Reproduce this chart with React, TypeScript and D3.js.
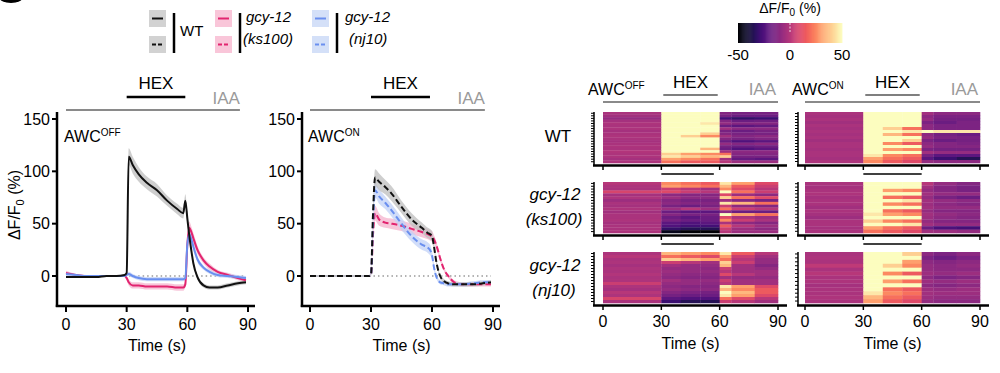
import React, { useEffect, useRef } from 'react';
import * as d3 from 'd3';

const FONT = '"Liberation Sans", Arial, sans-serif';

// ---- mean traces (ΔF/F0 %) ----
// AWC OFF panel, solid lines
const tOff = [0, 5, 10, 15, 20, 25, 29, 30, 31, 33, 36, 40, 45, 50, 55, 58, 59, 60, 61, 62, 63, 65, 68, 71, 75, 80, 85, 89];
const wtOff = [-1, -1, -1, -1, 0, 0, 1, 3, 114, 106, 97, 89, 82, 72, 64, 60, 72, 55, 38, 24, 12, -1, -9, -11, -11, -9, -7, -6];
const wtOffSem = [1, 1, 1, 1, 1, 1, 1, 2, 8, 8, 7, 6, 6, 5, 5, 5, 6, 5, 4, 3, 2, 2, 2, 2, 2, 2, 2, 2];
const ksOff = [3, 1, 0, 0, 0, 0, 0, -2, -6, -9, -9, -10, -10, -10, -11, -11, -8, 30, 46, 42, 36, 25, 15, 9, 4, 1, -2, -4];
const ksOffSem = [2, 1, 1, 1, 1, 1, 1, 2, 3, 3, 3, 3, 3, 3, 3, 3, 3, 6, 6, 5, 5, 4, 3, 3, 2, 2, 2, 2];
const njOff = [2, 1, 0, 0, 0, 0, 0, 1, 2, 0, -2, -3, -3, -3, -3, -3, -2, 30, 40, 35, 28, 16, 8, 4, 1, 0, -1, -2];
const njOffSem = [2, 1, 1, 1, 1, 1, 1, 1, 2, 2, 2, 2, 2, 2, 2, 2, 2, 5, 5, 5, 4, 3, 2, 2, 2, 2, 2, 2];

// AWC ON panel, dashed lines
const tOn = [0, 5, 10, 15, 20, 25, 29, 30, 31, 32, 34, 37, 40, 45, 50, 55, 58, 59, 60, 61, 62, 63, 64, 66, 68, 71, 75, 80, 85, 89];
const wtOn = [0, 0, 0, 0, 0, 0, 0, 1, 60, 94, 90, 85, 79, 66, 54, 46, 41, 40, 38, 28, 15, 6, 0, -5, -7, -8, -8, -8, -7, -6];
const wtOnSem = [1, 1, 1, 1, 1, 1, 1, 1, 6, 8, 8, 7, 7, 6, 6, 5, 5, 5, 5, 4, 3, 2, 2, 2, 2, 2, 2, 2, 2, 2];
const ksOn = [0, 0, 0, 0, 0, 0, 0, 1, 40, 60, 54, 51, 50, 48, 45, 42, 40, 39, 38, 35, 30, 24, 17, 6, 0, -6, -8, -8, -8, -8];
const ksOnSem = [1, 1, 1, 1, 1, 1, 1, 1, 5, 7, 6, 5, 5, 5, 5, 5, 5, 5, 5, 4, 4, 3, 3, 2, 2, 2, 2, 2, 2, 2];
const njOn = [0, 0, 0, 0, 0, 0, 0, 1, 50, 82, 76, 70, 63, 50, 38, 30, 27, 25, 20, 8, 0, -4, -6, -7, -8, -8, -8, -7, -6, -6];
const njOnSem = [1, 1, 1, 1, 1, 1, 1, 1, 5, 7, 7, 6, 6, 6, 5, 5, 5, 5, 4, 3, 2, 2, 2, 2, 2, 2, 2, 2, 2, 2];

const xTicks = [0, 30, 60, 90];
const yTicks = [0, 50, 100, 150];
const cbTicks = [-50, 0, 50];

// ---- heatmaps: one row per animal, values per time bin ----
const binEdges = [0, 30, 40, 50, 60, 66, 78, 90];
const hmWtOff = [
  [-3, 55, 55, 55, -12, -15, -15], [-5, 55, 55, 50, -15, -18, -18], [-8, 55, 55, 55, -28, -32, -30],
  [-4, 55, 55, 55, -12, -18, -17], [-2, 55, 55, 45, -8, -12, -12], [-3, 55, 55, 55, -18, -22, -20],
  [-2, 55, 55, 50, -5, -10, -10], [-4, 55, 55, 55, -15, -18, -15], [-3, 55, 55, 40, -12, -15, -15],
  [-2, 55, 40, 25, -5, -12, -10], [-3, 55, 55, 55, -12, -15, -13], [-4, 55, 55, 50, -18, -25, -22],
  [-3, 55, 55, 55, -8, -12, -10], [-2, 55, 55, 55, -15, -18, -17], [-3, 55, 50, 35, -18, -25, -22],
  [-1, 55, 55, 55, -5, -10, -10], [-2, 40, 30, 25, 20, -12, -12], [-2, 45, 40, 35, 40, -15, -15],
  [-4, 30, 25, 20, -5, -20, -22], [-2, 20, 15, 15, 0, -6, -6],
];
const hmKsOff = [
  [0, 25, 20, 15, 45, 30, 10], [-2, 30, 25, 20, 35, 15, 5], [-3, 5, 0, -5, 25, 10, 0],
  [8, 10, 5, 0, 50, 20, 5], [-4, -10, -12, -12, 10, -6, -10], [-2, -6, -10, -10, 40, 20, 10],
  [-6, -12, -15, -15, -6, -12, -15], [-3, -10, -12, -12, 45, 35, 20], [-4, -15, -18, -15, 5, -10, -12],
  [-2, -6, 0, -6, 20, 5, 0], [-5, -18, -22, -22, -10, -18, -18], [-3, -12, -15, -15, 50, 30, 20],
  [-3, -18, -22, -18, 10, -3, -6], [-2, -15, -18, -18, 25, 5, -3], [-4, -22, -25, -22, -3, -10, -12],
  [-3, -25, -28, -28, 15, 0, -6], [-3, -32, -35, -35, 5, -6, -10], [-2, -45, -50, -50, 0, -6, -6],
];
const hmNjOff = [
  [-2, 35, 30, 25, 45, 15, 0], [0, 20, 15, 10, 30, 5, -5], [-3, 40, 35, 30, 20, 0, -8],
  [-2, 5, 0, -5, 40, 5, -8], [-4, -5, -8, -8, 35, -5, -12], [-2, -8, -8, -10, 5, -5, -8],
  [-3, -6, -8, -8, 0, -5, -5], [-1, -8, -10, -10, 10, 0, -5], [-3, -10, -12, -12, -5, -8, -8],
  [-2, -5, -8, -8, 5, -5, -5], [5, -8, -8, -10, 0, -5, -5], [-2, -10, -12, -12, 45, 30, 10],
  [-4, -8, -10, -10, 35, 25, 15], [0, -12, -14, -16, 50, 35, 15], [-2, -16, -18, -18, 45, 30, 10],
  [8, -22, -25, -25, 20, 10, 0], [-3, -30, -35, -35, 5, 0, -5],
];
const hmWtOn = [
  [-3, 55, 55, 55, -5, -10, -10], [-4, 55, 55, 55, -10, -14, -14], [-3, 55, 55, 50, -8, -16, -16],
  [-5, 55, 55, 55, -14, -18, -14], [-3, 55, 55, 50, -10, -14, -14], [-4, 55, 40, 20, -10, -14, -14],
  [-3, 55, 55, 45, 50, 45, 45], [-4, 55, 35, 20, -10, -16, -18], [-3, 55, 55, 55, -8, -14, -15],
  [-5, 55, 50, 40, -14, -18, -16], [-3, 55, 25, 15, -10, -12, -14], [-3, 55, 55, 50, -8, -12, -12],
  [-4, 50, 30, 25, -14, -16, -16], [-3, 55, 55, 55, -5, -8, -8], [-3, 45, 25, 20, -16, -22, -22],
  [-4, 30, 20, 15, -22, -30, -35], [-2, 25, 15, 10, -8, -10, -10],
];
const hmKsOn = [
  [-3, 55, 55, 55, 0, -8, -12], [-4, 55, 55, 50, -5, -12, -15], [-3, 55, 30, 25, -8, -12, -15],
  [-2, 55, 55, 55, -5, -8, -8], [-4, 55, 20, 15, -8, -15, -18], [-3, 55, 55, 45, -5, -8, -10],
  [-3, 50, 25, 20, -6, -10, -12], [-5, 55, 55, 50, -5, -8, -8], [-3, 55, 20, 15, -8, -12, -12],
  [-4, 45, 30, 25, -5, -8, -10], [-6, 55, 55, 50, -6, -10, -12], [-3, 40, 25, 20, -8, -12, -12],
  [-3, 55, 50, 45, -5, -8, -8], [-4, 30, 20, 15, -18, -26, -28], [-3, 20, 15, 10, -5, -6, -8],
];
const hmNjOn = [
  [-3, 55, 55, 40, -10, -14, -10], [-2, 55, 55, 50, -14, -18, -14], [-3, 55, 55, 30, -10, -12, -10],
  [2, 55, 40, 25, -8, -10, -8], [-3, 55, 55, 55, -8, -10, -10], [0, 55, 25, 15, -6, -8, -6],
  [-3, 55, 55, 50, -10, -14, -12], [-2, 55, 30, 20, -6, -8, -6], [-4, 55, 55, 55, -10, -12, -10],
  [-3, 50, 20, 15, -6, -8, -6], [-3, 45, 25, 20, -5, -6, -6], [-2, 35, 20, 15, -6, -8, -8],
  [-3, 30, 15, 10, -8, -10, -10],
];

const cWT = '#111111', cKs = '#e2246f', cNj = '#6a8fef';
const bWT = '#bdbdbd', bKs = '#f4b3cd', bNj = '#c2d2f7';

const magma = d3.scaleSequential(d3.interpolateMagma).domain([-50, 50]).clamp(true);

function awcLabel(g: any, x: number, y: number, sup: string) {
  const t = g.append('text').attr('x', x).attr('y', y).attr('font-size', 16).text('AWC');
  t.append('tspan').attr('font-size', 10).attr('dy', -6).text(sup);
}

function linePanel(svg: any, xr: [number, number], axisX: number, sup: string, dashed: boolean, series: any[]) {
  const x = d3.scaleLinear().domain([0, 90]).range(xr);
  const y = d3.scaleLinear().domain([0, 150]).range([276, 119]);
  const g = svg.append('g');

  // stimulus header
  g.append('line').attr('x1', x(30)).attr('x2', x(59)).attr('y1', 97).attr('y2', 97)
    .attr('stroke', '#000').attr('stroke-width', 2.5);
  g.append('text').attr('x', x(44.5)).attr('y', 89).attr('text-anchor', 'middle').attr('font-size', 17).text('HEX');
  g.append('line').attr('x1', x(0)).attr('x2', x(86)).attr('y1', 110).attr('y2', 110)
    .attr('stroke', '#8a8a8a').attr('stroke-width', 2);
  g.append('text').attr('x', x(86)).attr('y', 104).attr('text-anchor', 'end').attr('font-size', 17)
    .attr('fill', '#9a9a9a').text('IAA');

  awcLabel(g, x(0) - 2, 142, sup);

  // zero reference
  g.append('line').attr('x1', x(29)).attr('x2', x(89)).attr('y1', y(0)).attr('y2', y(0))
    .attr('stroke', '#999').attr('stroke-width', 1.5).attr('stroke-dasharray', '1.5,3');

  const area = d3.area<any>().x(d => x(d.t)).y0(d => y(d.v - d.e)).y1(d => y(d.v + d.e)).curve(d3.curveMonotoneX);
  const line = d3.line<any>().x(d => x(d.t)).y(d => y(d.v)).curve(d3.curveMonotoneX);
  series.forEach(s => {
    const pts = s.t.map((t: number, i: number) => ({ t, v: s.v[i], e: s.e[i] }));
    g.append('path').datum(pts).attr('d', area).attr('fill', s.band).attr('opacity', 0.75);
  });
  series.forEach(s => {
    const pts = s.t.map((t: number, i: number) => ({ t, v: s.v[i], e: s.e[i] }));
    g.append('path').datum(pts).attr('d', line).attr('fill', 'none').attr('stroke', s.color)
      .attr('stroke-width', 2).attr('stroke-dasharray', dashed ? '6,3' : null);
  });

  // axes
  g.append('line').attr('x1', axisX).attr('x2', axisX).attr('y1', 112).attr('y2', 307)
    .attr('stroke', '#000').attr('stroke-width', 2.5);
  g.append('line').attr('x1', axisX - 1.2).attr('x2', xr[1] + 7).attr('y1', 306).attr('y2', 306)
    .attr('stroke', '#000').attr('stroke-width', 2.5);
  yTicks.forEach(v => {
    g.append('line').attr('x1', axisX - 5).attr('x2', axisX).attr('y1', y(v)).attr('y2', y(v))
      .attr('stroke', '#000').attr('stroke-width', 2);
    g.append('text').attr('x', axisX - 7).attr('y', y(v)).attr('dy', '0.35em').attr('text-anchor', 'end')
      .attr('font-size', 16).text(v);
  });
  xTicks.forEach(v => {
    g.append('line').attr('x1', x(v)).attr('x2', x(v)).attr('y1', 306).attr('y2', 312)
      .attr('stroke', '#000').attr('stroke-width', 2);
    g.append('text').attr('x', x(v)).attr('y', 330).attr('text-anchor', 'middle').attr('font-size', 16).text(v);
  });
  g.append('text').attr('x', x(45)).attr('y', 351).attr('text-anchor', 'middle').attr('font-size', 16).text('Time (s)');
}

function heatColumn(svg: any, xr: [number, number], axisX: number, sup: string, hexEnd: number, maps: number[][][]) {
  const x = d3.scaleLinear().domain([0, 90]).range(xr);
  const g = svg.append('g');
  const tops = [112, 182, 252];

  awcLabel(g, axisX - 6, 95, sup);
  g.append('text').attr('x', x(45)).attr('y', 88).attr('text-anchor', 'middle').attr('font-size', 17).text('HEX');
  g.append('line').attr('x1', x(31)).attr('x2', x(59)).attr('y1', 95).attr('y2', 95)
    .attr('stroke', '#555').attr('stroke-width', 1.5);
  g.append('line').attr('x1', x(0)).attr('x2', x(90)).attr('y1', 102).attr('y2', 102)
    .attr('stroke', '#8a8a8a').attr('stroke-width', 2);
  g.append('text').attr('x', x(89)).attr('y', 95).attr('text-anchor', 'end').attr('font-size', 17)
    .attr('fill', '#9a9a9a').text('IAA');

  maps.forEach((rows, k) => {
    const top = tops[k], bottom = top + 51;
    const yb = d3.scaleBand<number>().domain(d3.range(rows.length)).range([top, bottom]);
    rows.forEach((row, r) => {
      row.forEach((v, b) => {
        g.append('rect').attr('x', x(binEdges[b])).attr('y', yb(r))
          .attr('width', x(binEdges[b + 1]) - x(binEdges[b]) + 0.3).attr('height', yb.bandwidth() + 0.3)
          .attr('fill', magma(v));
      });
      g.append('line').attr('x1', axisX - 3).attr('x2', axisX).attr('y1', yb(r)! + yb.bandwidth() / 2)
        .attr('y2', yb(r)! + yb.bandwidth() / 2).attr('stroke', '#000').attr('stroke-width', 1);
    });
    g.append('line').attr('x1', axisX).attr('x2', axisX).attr('y1', top).attr('y2', bottom + 3)
      .attr('stroke', '#000').attr('stroke-width', 1.5);
    g.append('line').attr('x1', axisX - 1).attr('x2', xr[1] + 9).attr('y1', bottom + 2.5).attr('y2', bottom + 2.5)
      .attr('stroke', '#000').attr('stroke-width', 2.5);
    xTicks.forEach(v => {
      g.append('line').attr('x1', x(v)).attr('x2', x(v)).attr('y1', bottom + 2.5).attr('y2', bottom + 7)
        .attr('stroke', '#000').attr('stroke-width', 1.5);
    });
    if (k > 0) {
      g.append('line').attr('x1', x(30)).attr('x2', x(hexEnd)).attr('y1', top - 8).attr('y2', top - 8)
        .attr('stroke', '#000').attr('stroke-width', 1.5);
    }
  });
  xTicks.forEach(v => {
    g.append('text').attr('x', x(v)).attr('y', 327).attr('text-anchor', 'middle').attr('font-size', 16).text(v);
  });
  g.append('text').attr('x', x(45)).attr('y', 349).attr('text-anchor', 'middle').attr('font-size', 16).text('Time (s)');
}

const App: React.FC = () => {
  const ref = useRef<SVGSVGElement>(null);

  useEffect(() => {
    if (!ref.current) return;
    const svg = d3.select(ref.current);
    svg.selectAll('*').remove();
    svg.attr('font-family', FONT);

    // panel letter (cut off at the top)
    svg.append('ellipse').attr('cx', 11).attr('cy', -3).attr('rx', 12).attr('ry', 6).attr('fill', '#000');

    // legend
    const leg = svg.append('g').attr('font-size', 15);
    const groups = [
      { x: 149, color: cWT, box: '#d2d2d2' },
      { x: 215, color: cKs, box: '#f9c6d9' },
      { x: 312, color: cNj, box: '#d4e0f8' },
    ];
    groups.forEach(gr => {
      [0, 1].forEach(i => {
        const y0 = i === 0 ? 10 : 36;
        leg.append('rect').attr('x', gr.x).attr('y', y0).attr('width', 17).attr('height', 17).attr('fill', gr.box);
        leg.append('line').attr('x1', gr.x + 3).attr('x2', gr.x + 14).attr('y1', y0 + 8.5).attr('y2', y0 + 8.5)
          .attr('stroke', gr.color).attr('stroke-width', 2).attr('stroke-dasharray', i === 1 ? '4,2' : null);
      });
      leg.append('line').attr('x1', gr.x + 25).attr('x2', gr.x + 25).attr('y1', 13).attr('y2', 53)
        .attr('stroke', '#000').attr('stroke-width', 2.5);
    });
    leg.append('text').attr('x', 180).attr('y', 36).attr('font-size', 15).text('WT');
    leg.append('text').attr('x', 246).attr('y', 22).attr('font-style', 'italic').text('gcy-12');
    leg.append('text').attr('x', 243).attr('y', 44).attr('font-style', 'italic').text('(ks100)');
    leg.append('text').attr('x', 345).attr('y', 22).attr('font-style', 'italic').text('gcy-12');
    leg.append('text').attr('x', 349).attr('y', 44).attr('font-style', 'italic').text('(nj10)');

    // y title
    const yt = svg.append('text').attr('transform', 'translate(20,205) rotate(-90)')
      .attr('text-anchor', 'middle').attr('font-size', 16).text('ΔF/F');
    yt.append('tspan').attr('font-size', 11).attr('dy', 4).text('0');
    yt.append('tspan').attr('dy', -4).text(' (%)');

    linePanel(svg, [66, 248], 57, 'OFF', false, [
      { t: tOff, v: ksOff, e: ksOffSem, color: cKs, band: bKs },
      { t: tOff, v: njOff, e: njOffSem, color: cNj, band: bNj },
      { t: tOff, v: wtOff, e: wtOffSem, color: cWT, band: bWT },
    ]);
    linePanel(svg, [310, 493], 302, 'ON', true, [
      { t: tOn, v: ksOn, e: ksOnSem, color: cKs, band: bKs },
      { t: tOn, v: njOn, e: njOnSem, color: cNj, band: bNj },
      { t: tOn, v: wtOn, e: wtOnSem, color: cWT, band: bWT },
    ]);

    // colorbar
    const cb = d3.scaleLinear().domain([-50, 50]).range([738, 842]);
    const cbg = svg.append('g');
    d3.range(-50, 50, 1).forEach(v => {
      cbg.append('rect').attr('x', cb(v)).attr('y', 23).attr('width', cb(v + 1) - cb(v) + 0.4).attr('height', 20)
        .attr('fill', magma(v + 0.5));
    });
    cbg.append('line').attr('x1', cb(0)).attr('x2', cb(0)).attr('y1', 23).attr('y2', 33)
      .attr('stroke', '#fff').attr('stroke-width', 0.8).attr('stroke-dasharray', '2,1.5');
    cbTicks.forEach(v => {
      cbg.append('text').attr('x', cb(v)).attr('y', 60).attr('text-anchor', 'middle').attr('font-size', 15).text(v);
    });
    const ct = cbg.append('text').attr('x', 790).attr('y', 13).attr('text-anchor', 'middle').attr('font-size', 14).text('ΔF/F');
    ct.append('tspan').attr('font-size', 10).attr('dy', 3).text('0');
    ct.append('tspan').attr('dy', -3).text(' (%)');

    // heatmaps
    heatColumn(svg, [603, 778], 594, 'OFF', 57, [hmWtOff, hmKsOff, hmNjOff]);
    heatColumn(svg, [805, 980], 798, 'ON', 60, [hmWtOn, hmKsOn, hmNjOn]);

    const rl = svg.append('g').attr('font-size', 17).attr('text-anchor', 'middle');
    rl.append('text').attr('x', 558).attr('y', 142).text('WT');
    rl.append('text').attr('x', 555).attr('y', 200).attr('font-style', 'italic').text('gcy-12');
    rl.append('text').attr('x', 554).attr('y', 225).attr('font-style', 'italic').text('(ks100)');
    rl.append('text').attr('x', 555).attr('y', 271).attr('font-style', 'italic').text('gcy-12');
    rl.append('text').attr('x', 554).attr('y', 296).attr('font-style', 'italic').text('(nj10)');
  }, []);

  return <svg ref={ref} width={1000} height={373} style={{ position: 'absolute', left: 0, top: 0, background: '#fff' }} />;
};

export default App;
